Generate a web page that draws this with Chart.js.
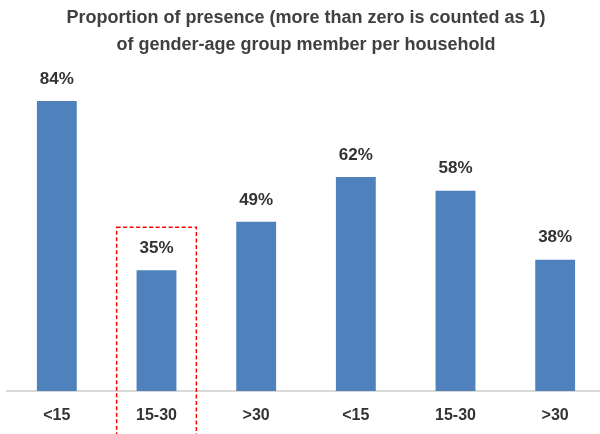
<!DOCTYPE html>
<html>
<head>
<meta charset="utf-8">
<script src="https://cdn.jsdelivr.net/npm/chart.js@4/dist/chart.umd.min.js"></script>
<style>
html,body{margin:0;padding:0;background:#fff;overflow:hidden;}
#wrap{width:606px;height:434px;position:relative;}
</style>
</head>
<body>
<div id="wrap"><canvas id="c"></canvas></div>
<script>
const categories = ['<15', '15-30', '>30', '<15', '15-30', '>30'];
const values = [84, 35, 49, 62, 58, 38];
const titleLines = ['Proportion of presence (more than zero is counted as 1)', 'of gender-age group member per household'];
const highlightIndex = 1;

const FONT = '"Liberation Sans", Arial, sans-serif';

const labelPlugin = {
  id: 'valueLabels',
  afterDatasetsDraw(chart) {
    const ctx = chart.ctx;
    const meta = chart.getDatasetMeta(0);
    ctx.save();
    ctx.font = 'bold 17px ' + FONT;
    ctx.fillStyle = '#333333';
    ctx.textAlign = 'center';
    ctx.textBaseline = 'middle';
    meta.data.forEach((bar, i) => {
      ctx.fillText(values[i] + '%', bar.x, bar.y - 22);
    });
    ctx.restore();
  }
};

const highlightPlugin = {
  id: 'highlight',
  afterDatasetsDraw(chart) {
    const ctx = chart.ctx;
    const xs = chart.scales.x, ys = chart.scales.y;
    const cx = xs.getPixelForValue(highlightIndex);
    const half = xs.width / categories.length * 0.4;
    const top = ys.getPixelForValue(values[highlightIndex]) - 43;
    ctx.save();
    ctx.strokeStyle = '#ff0000';
    ctx.lineWidth = 1.5;
    ctx.setLineDash([4, 2.5]);
    ctx.strokeRect(cx - half, top, half * 2, 460 - top);
    ctx.restore();
  }
};

new Chart(document.getElementById('c'), {
  type: 'bar',
  data: {
    labels: categories,
    datasets: [{
      data: values,
      backgroundColor: '#4f81bd',
      borderWidth: 0,
      barPercentage: 0.8,
      categoryPercentage: 0.5
    }]
  },
  options: {
    responsive: true,
    maintainAspectRatio: false,
    animation: false,
    layout: { padding: { left: 7, right: 1, top: 0, bottom: 0 } },
    plugins: {
      legend: { display: false },
      tooltip: { enabled: false },
      title: {
        display: true,
        text: titleLines,
        color: '#404040',
        font: { family: FONT, size: 18, weight: 'bold', lineHeight: 1.5 },
        padding: { top: 5, bottom: 4 }
      }
    },
    scales: {
      x: {
        grid: { display: false, drawTicks: false },
        border: { display: true, color: '#d9d9d9', width: 2 },
        ticks: { color: '#333333', font: { family: FONT, size: 16, weight: 'bold' }, padding: 15, maxRotation: 0 },
        afterFit(scale) { scale.height = 43; }
      },
      y: {
        display: false,
        min: 0,
        max: 95
      }
    }
  },
  plugins: [labelPlugin, highlightPlugin]
});
</script>
</body>
</html>
